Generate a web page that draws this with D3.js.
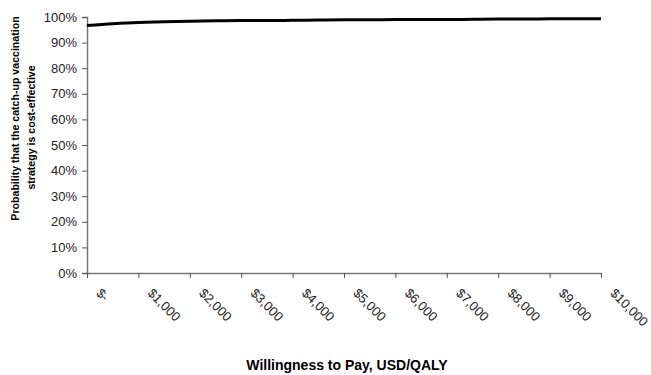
<!DOCTYPE html>
<html><head><meta charset="utf-8">
<script src="https://cdn.jsdelivr.net/npm/d3@7"></script>
<style>body{margin:0;background:#fff}svg{display:block}text{font-family:Arial,"Liberation Sans",sans-serif}</style>
</head><body>
<svg id="chart" width="651" height="375"></svg>
<script>
const wtp = [0, 500, 1000, 1500, 2000, 2500, 3000, 3500, 4000, 4500, 5000, 5500, 6000, 6500, 7000, 7500, 8000, 8500, 9000, 9500, 10000];
const probability = [0.967, 0.974, 0.979, 0.981, 0.983, 0.985, 0.986, 0.986, 0.987, 0.988, 0.989, 0.989, 0.990, 0.990, 0.990, 0.991, 0.992, 0.992, 0.993, 0.993, 0.993];
const xTicks = [0, 1000, 2000, 3000, 4000, 5000, 6000, 7000, 8000, 9000, 10000];
const xTickLabels = ["$-", "$1,000", "$2,000", "$3,000", "$4,000", "$5,000", "$6,000", "$7,000", "$8,000", "$9,000", "$10,000"];
const yTicks = [0, 0.1, 0.2, 0.3, 0.4, 0.5, 0.6, 0.7, 0.8, 0.9, 1.0];
const yTitle = ["Probability that the catch-up vaccination", "strategy is cost-effective"];
const xTitle = "Willingness to Pay, USD/QALY";

const svg = d3.select("#chart");
const L = 87, R = 601, T = 17, B = 273;
const x = d3.scaleLinear().domain([0, 10000]).range([L, R]);
const y = d3.scaleLinear().domain([0, 1]).range([B, T]);

// Y axis
const yAxis = d3.axisLeft(y).tickValues(yTicks).tickFormat(d3.format(".0%")).tickSize(5).tickPadding(5);
const gy = svg.append("g").attr("transform", `translate(${L},0)`).call(yAxis);
gy.select(".domain").attr("stroke", "#777").attr("stroke-width", 1.5);
gy.selectAll(".tick line").attr("stroke", "#555");
gy.selectAll(".tick text").attr("font-size", 13).attr("fill", "#222");

// X axis
const xAxis = d3.axisBottom(x).tickValues(xTicks).tickFormat((d, i) => xTickLabels[i]).tickSize(5).tickSizeOuter(0);
const gx = svg.append("g").attr("transform", `translate(0,${B})`).call(xAxis);
gx.select(".domain").attr("stroke", "#777").attr("stroke-width", 1.5);
gx.selectAll(".tick line").attr("stroke", "#555");
gx.selectAll(".tick text")
  .attr("font-size", 13).attr("fill", "#222")
  .attr("text-anchor", "start").attr("dy", null).attr("y", null)
  .attr("transform", "translate(8,21) rotate(45)");

// Line
const line = d3.line().x((d, i) => x(wtp[i])).y(d => y(d)).curve(d3.curveMonotoneX);
svg.append("path").datum(probability).attr("d", line)
  .attr("fill", "none").attr("stroke", "#000").attr("stroke-width", 3);

// Titles
const yTitleCenter = [118.5, 127.5];
yTitle.forEach((t, i) => {
  svg.append("text").attr("transform", `translate(${19 + i * 16},${yTitleCenter[i]}) rotate(-90)`)
    .attr("text-anchor", "middle").attr("font-weight", "bold").attr("font-size", 10.6).attr("fill", "#000")
    .text(t);
});

svg.append("text").attr("x", 347).attr("y", 370).attr("text-anchor", "middle")
  .attr("font-weight", "bold").attr("font-size", 14).attr("fill", "#000").text(xTitle);
</script>
</body></html>
